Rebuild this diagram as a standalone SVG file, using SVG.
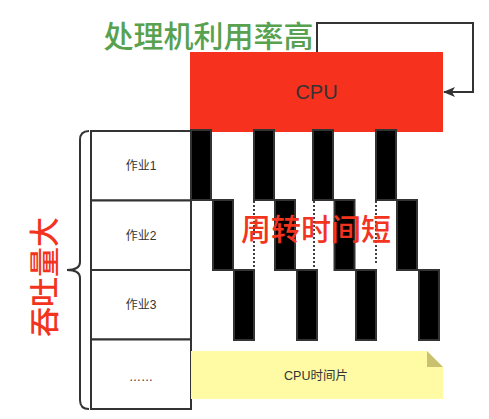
<svg xmlns="http://www.w3.org/2000/svg" width="489" height="419" viewBox="0 0 489 419">
<defs>
<style>
.t{font-family:"Liberation Sans","Noto Sans CJK SC",sans-serif;fill:#333;text-anchor:middle;dominant-baseline:central}
.big{font-family:"Noto Sans CJK SC","Liberation Sans",sans-serif;font-size:30px;font-weight:500;text-anchor:middle;dominant-baseline:central}
.job{fill:#fff;stroke:#333;stroke-width:2}
.blk{fill:#000;stroke:#333;stroke-width:2}
.dot{stroke:#000;stroke-width:1.5;stroke-dasharray:2 2;fill:none}
</style>
<marker id="arr" markerWidth="12" markerHeight="10" refX="11" refY="5" orient="auto" markerUnits="userSpaceOnUse">
<path d="M0,0 L12,5 L0,10 L3,5 Z" fill="#333"/>
</marker>
</defs>
<rect width="489" height="419" fill="#fff"/>
<g id="cpu">
<rect x="190" y="52" width="253" height="80" fill="#F6311E"/>
<text class="t" x="316.5" y="92" font-size="20">CPU</text>
</g>
<g id="jobs">
<g id="job1"><rect class="job" x="91" y="131" width="100" height="69.5"/><text class="t" x="141" y="166" font-size="12">作业1</text></g>
<g id="job2"><rect class="job" x="91" y="200.5" width="100" height="69.5"/><text class="t" x="141" y="236" font-size="12">作业2</text></g>
<g id="job3"><rect class="job" x="91" y="270" width="100" height="69.5"/><text class="t" x="141" y="305" font-size="12">作业3</text></g>
<g id="job4"><rect class="job" x="91" y="339.5" width="100" height="69.5"/><text class="t" x="141" y="377" font-size="12">……</text></g>
</g>
<g id="slices">
<rect class="blk" x="191" y="130" width="20" height="70"/>
<rect class="blk" x="254" y="130" width="20" height="70"/>
<rect class="blk" x="313" y="130" width="20" height="70"/>
<rect class="blk" x="376" y="130" width="20" height="70"/>
<rect class="blk" x="213" y="200" width="20" height="70"/>
<rect class="blk" x="275" y="200" width="20" height="70"/>
<rect class="blk" x="334.5" y="200" width="20" height="70"/>
<rect class="blk" x="397" y="200" width="20" height="70"/>
<rect class="blk" x="234" y="270" width="20" height="70"/>
<rect class="blk" x="297" y="270" width="20" height="70"/>
<rect class="blk" x="356" y="270" width="20" height="70"/>
<rect class="blk" x="419" y="270" width="20" height="70"/>
</g>
<g id="connectors">
<path d="M317,52 L317,23 L473,23 L473,92 L444,92" fill="none" stroke="#333" stroke-width="2" marker-end="url(#arr)"/>
<line class="dot" x1="254" y1="201" x2="254" y2="267"/>
<line class="dot" x1="314" y1="201" x2="314" y2="267"/>
<line class="dot" x1="376" y1="201" x2="376" y2="265"/>
</g>
<g id="brace">
<path d="M89,131 Q80,131 80,140 L80,262 Q80,270 67,270 Q80,270 80,278 L80,400 Q80,409 89,409" fill="none" stroke="#333" stroke-width="2"/>
</g>
<g id="note">
<path d="M191,351 L427,351 L443,367 L443,399 L191,399 Z" fill="#FFFAA4"/>
<path d="M427,351 L443,367 L427,367 Z" fill="#C9C070"/>
<text class="t" x="316" y="375.5" font-size="12.5">CPU时间片</text>
</g>
<g id="labels">
<text class="big" x="208.5" y="34" fill="#57A14F">处理机利用率高</text>
<text class="big" x="316" y="226.5" fill="#F2341F">周转时间短</text>
<text class="big" transform="translate(42,277) rotate(-90)" x="0" y="0" fill="#F2341F">吞吐量大</text>
</g>
</svg>
